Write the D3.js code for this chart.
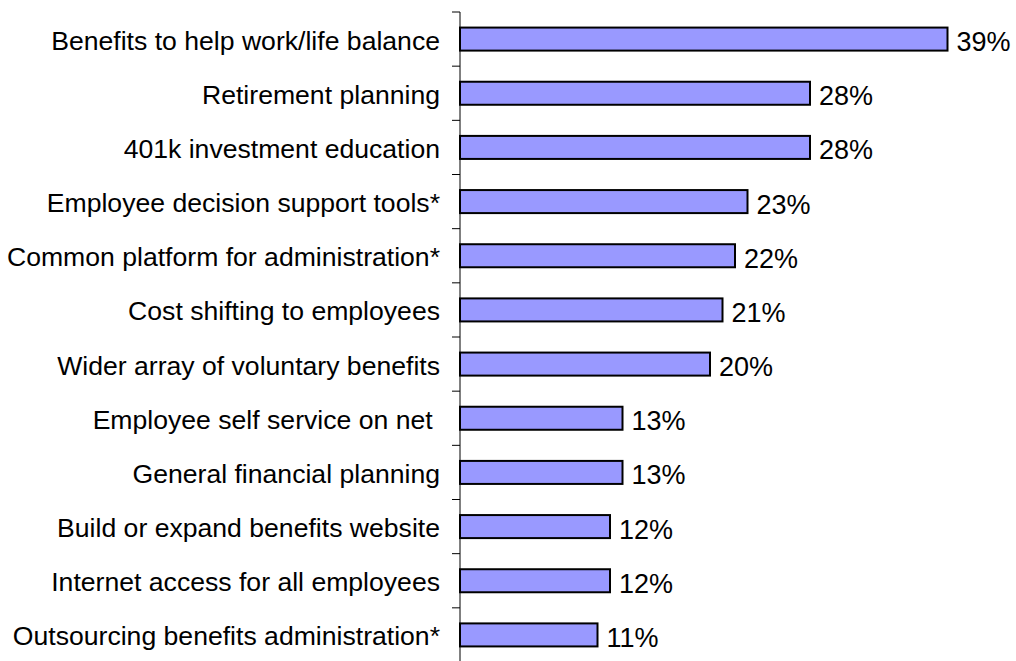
<!DOCTYPE html>
<html>
<head>
<meta charset="utf-8">
<script src="https://cdn.jsdelivr.net/npm/d3@7"></script>
<style>
  html, body { margin: 0; padding: 0; background: #fff; }
  svg { display: block; }
  text { font-family: "Liberation Sans", Arial, sans-serif; fill: #000; white-space: pre; }
</style>
</head>
<body>
<svg id="chart" width="1016" height="661"></svg>
<script>
// Share of respondents naming each benefits initiative
const categories = [
  "Benefits to help work/life balance",
  "Retirement planning",
  "401k investment education",
  "Employee decision support tools*",
  "Common platform for administration*",
  "Cost shifting to employees",
  "Wider array of voluntary benefits",
  "Employee self service on net ",
  "General financial planning",
  "Build or expand benefits website",
  "Internet access for all employees",
  "Outsourcing benefits administration*"
];
const values = [39, 28, 28, 23, 22, 21, 20, 13, 13, 12, 12, 11];
const valueLabels = ["39%", "28%", "28%", "23%", "22%", "21%", "20%", "13%", "13%", "12%", "12%", "11%"];

const svg = d3.select("#chart");

const x = d3.scaleLinear().domain([0, 40]).range([460, 960]);
const y = d3.scaleBand()
  .domain(categories)
  .range([12, 662])
  .paddingInner(0.575)
  .paddingOuter(0.2875);

const rows = categories.map((c, i) => ({ cat: c, v: values[i], label: valueLabels[i] }));

// bars
svg.append("g").selectAll("rect")
  .data(rows)
  .enter().append("rect")
  .attr("x", x(0))
  .attr("y", d => y(d.cat))
  .attr("width", d => x(d.v) - x(0))
  .attr("height", y.bandwidth())
  .attr("fill", "#9999ff")
  .attr("stroke", "#000")
  .attr("stroke-width", 2);

// category axis: vertical line with ticks between categories
const axisG = svg.append("g");
const y0 = y.range()[0], y1 = y.range()[1];
axisG.append("line")
  .attr("x1", x(0)).attr("x2", x(0))
  .attr("y1", y0).attr("y2", y1)
  .attr("stroke", "#000").attr("stroke-width", 1);
axisG.selectAll("line.tick")
  .data(d3.range(categories.length + 1))
  .enter().append("line")
  .attr("class", "tick")
  .attr("x1", x(0) - 8).attr("x2", x(0))
  .attr("y1", i => y0 + i * y.step())
  .attr("y2", i => y0 + i * y.step())
  .attr("stroke", "#000").attr("stroke-width", 1);

// category labels
svg.append("g").selectAll("text")
  .data(rows)
  .enter().append("text")
  .attr("x", 440)
  .attr("y", d => y(d.cat) + y.bandwidth() / 2 + 10.5)
  .attr("text-anchor", "end")
  .style("font-size", "26.6px")
  .text(d => d.cat);

// value labels
svg.append("g").selectAll("text")
  .data(rows)
  .enter().append("text")
  .attr("x", d => x(d.v) + 9)
  .attr("y", d => y(d.cat) + y.bandwidth() / 2 + 12)
  .style("font-size", "27px")
  .text(d => d.label);
</script>
</body>
</html>
